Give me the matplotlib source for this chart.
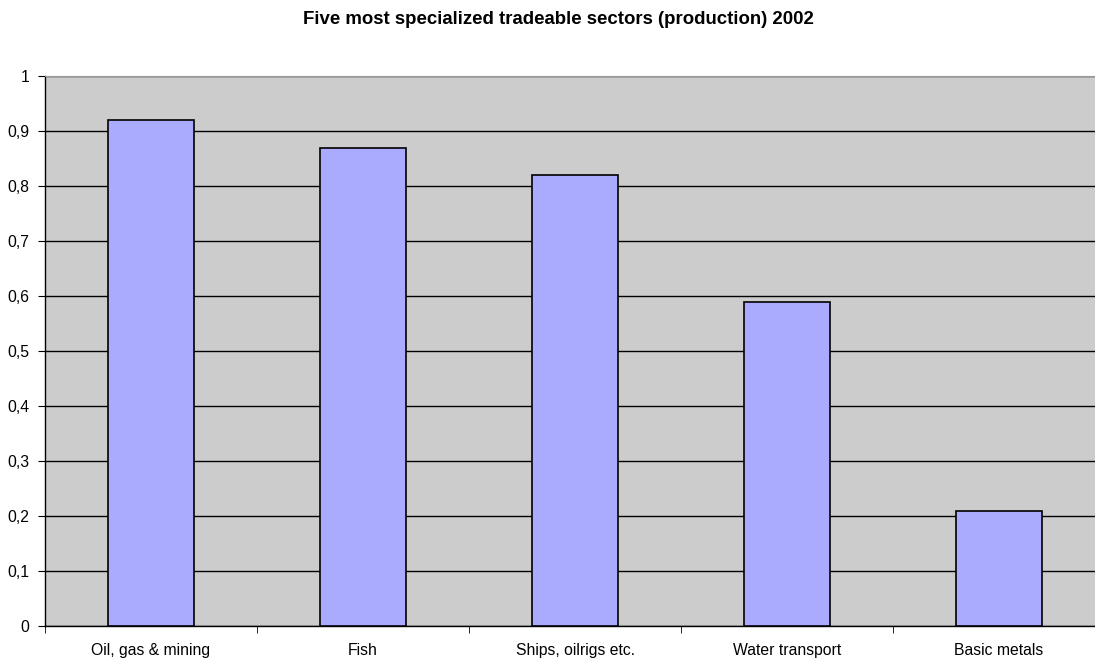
import matplotlib
matplotlib.use("Agg")
import matplotlib.pyplot as plt
import numpy as np

categories = ["Oil, gas & mining", "Fish", "Ships, oilrigs etc.", "Water transport", "Basic metals"]
values = [0.92, 0.87, 0.82, 0.59, 0.21]
yticks = [0, 0.1, 0.2, 0.3, 0.4, 0.5, 0.6, 0.7, 0.8, 0.9, 1.0]
ytick_labels = ["0", "0,1", "0,2", "0,3", "0,4", "0,5", "0,6", "0,7", "0,8", "0,9", "1"]
title = "Five most specialized tradeable sectors (production) 2002"

plt.rcParams['font.family'] = ['Liberation Sans', 'DejaVu Sans']

fig = plt.figure(figsize=(10.95, 6.6), dpi=100)
ax = fig.add_axes([45/1095, 34/660, 1060/1095, 550/660])
ax.set_facecolor("#CCCCCC")

x = np.arange(len(categories))
ax.bar(x, values, width=0.405, color="#AAAAFF", edgecolor="black", linewidth=1.2, zorder=3)

ax.set_xlim(-0.5, len(categories) - 0.5)
ax.set_ylim(0, 1)
ax.set_yticks(yticks)
ax.set_yticklabels(ytick_labels, fontsize=11.3)
ax.yaxis.grid(True, color="black", linewidth=1.0, zorder=1)
ax.set_axisbelow(True)

ax.set_xticks(x)
ax.set_xticklabels(categories, fontsize=11.3)
ax.tick_params(axis='x', length=0, pad=12)
ax.set_xticks(np.arange(len(categories) + 1) - 0.5, minor=True)
ax.tick_params(axis='x', which='minor', length=5, direction='out', color='black')
ax.tick_params(axis='y', length=5, direction='out', color='black', pad=6)

for s in ["left", "bottom"]:
    ax.spines[s].set_color("black")
    ax.spines[s].set_linewidth(1.0)
ax.spines["top"].set_color("#999999")
ax.spines["right"].set_visible(False)

fig.text(558/1095, 1 - 19/660, title, ha="center", va="center", fontsize=13.4, fontweight="bold")

fig.savefig("out.png", dpi=100, facecolor="white")
